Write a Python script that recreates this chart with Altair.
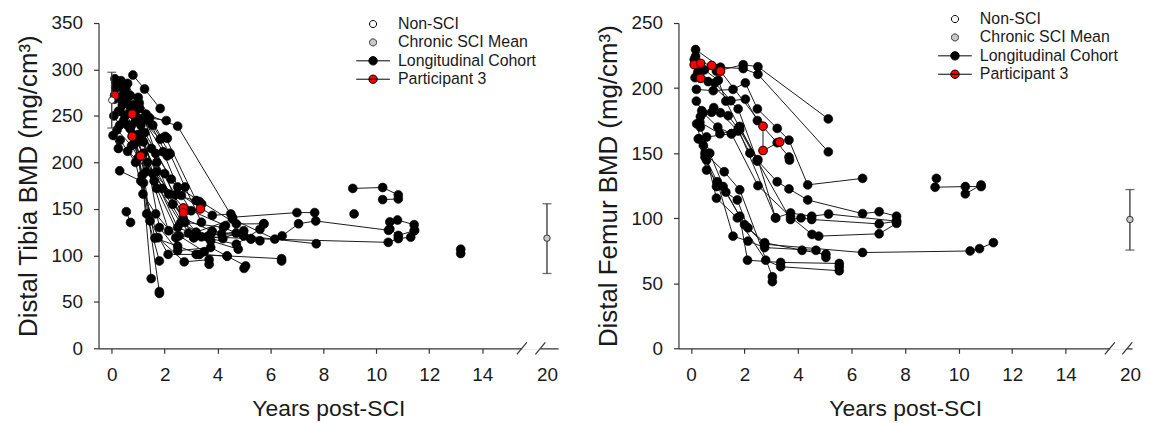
import altair as alt
import pandas as pd

FONT = "Liberation Sans"

# ---------------- data ----------------
LEGEND_LABELS = ["Non-SCI", "Chronic SCI Mean", "Longitudinal Cohort", "Participant 3"]
LEGEND_FILLS = ["#ffffff", "#c8c8c8", "#000000", "#ff0000"]

X_TICKS = [0, 2, 4, 6, 8, 10, 12, 14]
BROKEN_X_VALUE = 20
TIBIA_Y_TICKS = [0, 50, 100, 150, 200, 250, 300, 350]
FEMUR_Y_TICKS = [0, 50, 100, 150, 200, 250]

# Tibia (left panel): years post-SCI, BMD mg/cm3
TIBIA_NON_SCI = {"x": 0, "mean": 267, "lo": 237, "hi": 297}
TIBIA_CHRONIC = {"x": 20, "mean": 118.5, "lo": 80.5, "hi": 155.5}
TIBIA_P3 = [(0.11, 272), (0.77, 252), (0.77, 228), (1.09, 207), (2.71, 151), (2.71, 146), (3.35, 150)]
TIBIA_COHORT = [
    [(0.80, 294), (1.24, 279), (1.83, 258)],
    [(0.35, 288), (1.43, 248), (2.06, 245)],
    [(0.55, 283), (1.3, 252), (2.49, 239), (4.56, 141), (7.0, 146), (7.67, 146)],
    [(0.15, 286), (0.6, 270), (1.1, 247), (1.83, 225), (2.02, 228), (3.19, 159), (3.39, 155.5)],
    [(0.25, 282), (0.85, 262), (1.55, 240), (2.19, 210), (2.77, 173.5), (3.39, 135.6)],
    [(0.45, 275), (1.04, 264), (1.66, 209.6), (2.63, 164.5), (3.8, 143), (4.5, 144.6)],
    [(0.1, 268), (0.7, 255), (1.2, 246), (1.94, 211.5), (2.49, 173.5), (4.71, 133.8), (5.75, 134)],
    [(0.05, 229), (0.25, 215), (0.6, 212), (1.55, 188), (2.15, 166), (3.1, 119), (4.15, 123), (4.99, 126.5)],
    [(0.2, 235), (0.75, 218), (1.3, 190), (2.0, 188), (2.77, 135.6), (4.22, 130), (5.26, 117.5), (5.6, 115.7)],
    [(0.32, 224), (0.9, 200), (1.18, 166), (1.66, 144.6), (2.42, 119), (3.74, 123), (4.99, 121)],
    [(0.15, 280), (0.75, 240), (1.15, 186), (1.49, 75)],
    [(0.2, 270), (0.9, 228), (1.2, 178), (1.8, 61), (1.8, 59)],
    [(0.4, 262), (1.0, 205), (1.32, 144.6), (1.8, 94)],
    [(0.55, 147), (0.71, 135.4)],
    [(0.3, 191), (1.1, 180), (1.75, 119), (2.74, 93), (3.68, 95.4), (3.68, 90.4)],
    [(0.5, 250), (1.05, 223), (1.45, 137), (2.13, 101), (3.19, 101), (4.36, 99.4), (6.42, 96.4), (6.42, 94)],
    [(0.65, 262), (1.1, 240), (1.8, 130), (2.49, 105), (3.74, 108.5), (5.06, 88.6), (5.0, 86)],
    [(0.25, 255), (0.8, 230), (1.63, 118.6), (2.49, 110), (3.32, 101), (4.36, 99)],
    [(0.45, 245), (1.2, 210), (2.15, 126.5), (3.1, 119), (3.74, 115.7), (4.78, 106.6)],
    [(0.6, 240), (1.35, 200), (2.49, 130), (3.39, 120), (4.71, 112), (5.6, 128), (5.75, 134)],
    [(0.9, 245), (1.5, 215), (2.3, 155), (3.19, 125), (4.57, 139), (6.16, 117.5), (6.44, 121),
     (7.06, 134), (7.71, 137), (10.46, 127), (10.51, 136), (10.8, 138), (11.43, 133)],
    [(1.0, 230), (1.7, 190), (2.7, 140), (3.8, 126), (4.99, 121), (7.73, 112.5)],
    [(0.85, 220), (1.6, 180), (2.6, 135), (3.6, 120), (5.26, 118), (10.45, 114), (10.83, 118),
     (11.3, 119.6), (11.43, 126.5)],
    [(9.11, 172), (10.24, 173), (10.83, 165)],
    [(10.24, 160), (10.83, 160.7)],
    [(9.16, 144.6)],
    [(13.19, 106.6), (13.19, 102)],
    [(0.12, 290), (0.5, 278), (1.0, 270), (1.9, 226), (2.1, 226)],
    [(0.6, 285), (1.05, 258), (1.4, 245), (2.1, 207), (2.2, 209)],
    [(0.3, 255), (0.9, 250), (1.7, 200), (2.4, 165), (3.3, 158), (3.39, 155)],
    [(10.51, 128.6), (10.83, 121.4), (11.45, 126.8)],
    [(0.08, 250), (0.3, 240), (0.7, 236), (1.2, 222), (1.9, 172), (2.9, 124), (4.2, 118), (4.7, 124)],
    [(0.38, 268), (0.95, 246), (1.25, 232), (2.25, 182), (3.0, 148), (4.3, 132)],
    [(0.7, 272), (1.15, 232), (1.7, 172), (2.55, 121), (3.5, 104)],
]

# Femur (right panel)
FEMUR_CHRONIC = {"x": 20, "mean": 99, "lo": 75.5, "hi": 122}
FEMUR_P3 = [(0.12, 218), (0.36, 219), (0.36, 207.5), (0.77, 217.4), (1.1, 213), (2.69, 170.7), (2.69, 152), (3.31, 158.5)]
FEMUR_COHORT = [
    [(0.17, 224.5), (0.95, 213), (1.95, 218), (2.5, 216.4), (5.13, 176.3)],
    [(0.17, 229.6), (1.1, 216), (1.95, 215), (2.5, 210.6), (5.13, 151)],
    [(0.2, 199), (0.83, 198), (1.57, 199), (2.03, 204), (2.48, 184), (3.22, 169), (3.66, 160), (4.36, 125.6), (6.41, 130.6)],
    [(0.25, 212), (0.89, 204), (1.49, 190.3), (2.03, 191.5), (2.48, 175), (3.22, 158), (3.66, 147), (3.68, 144.6)],
    [(0.15, 208), (0.64, 205), (1.76, 184), (2.47, 144.6), (3.22, 128), (3.66, 122.5), (4.36, 114), (6.41, 103.5), (7.03, 105), (7.68, 101.5)],
    [(0.4, 182.6), (0.77, 181.4), (1.39, 178.8), (1.76, 168.7), (3.16, 100.2), (3.72, 104), (4.51, 101.5), (5.14, 103.2), (7.68, 97.7)],
    [(0.33, 173.8), (1.08, 164.9), (1.82, 168), (3.72, 99), (4.11, 100.2), (4.51, 99), (7.03, 95.6), (7.68, 97.7)],
    [(0.58, 162.4), (1.51, 164.9), (2.5, 125), (3.72, 101), (4.52, 87.5), (4.77, 86.2), (7.03, 88), (7.68, 96)],
    [(0.3, 161), (0.58, 144.6), (0.95, 124.3), (1.73, 114), (2.13, 92.6), (2.75, 81.2), (4.15, 75.3), (5.04, 72.3)],
    [(0.21, 172.5), (0.52, 147), (0.98, 128), (1.57, 86.2), (2.13, 82.4), (2.75, 77.4), (4.67, 75.3), (5.04, 69.8)],
    [(0.27, 161), (0.58, 137), (1.2, 124.3), (1.82, 101.5), (2.11, 67.7), (3.35, 66), (5.54, 65.2), (5.54, 62.7)],
    [(0.46, 156), (0.95, 115.4), (1.73, 100.2), (2.79, 67.7), (3.35, 62.7), (5.54, 59.6)],
    [(0.52, 150), (1.24, 135.7), (1.82, 121.8), (3.04, 55), (3.04, 51.2)],
    [(0.35, 170), (0.7, 150), (1.3, 120), (2.0, 95), (2.75, 80), (6.41, 73.6), (10.43, 74.8), (10.78, 76.6), (11.3, 81.2)],
    [(9.17, 130.6)],
    [(9.12, 123.8), (10.25, 124.3), (10.84, 124.3)],
    [(10.25, 118.7), (10.84, 125.5)],
    [(0.12, 222), (0.5, 214), (1.02, 206), (1.3, 190), (1.8, 170), (2.5, 145), (3.16, 100.2)],
    [(0.2, 190), (0.45, 181), (1.0, 170), (1.51, 164.9), (1.82, 170.5), (2.48, 143.8)],
    [(0.35, 178), (0.85, 185), (1.1, 181), (1.76, 167), (2.2, 150)],
]

# ---------------- helpers ----------------
CIRCLE_PATH = "M-0.55,0A0.55,0.55,0,1,0,0.55,0A0.55,0.55,0,1,0,-0.55,0Z"
LINE_CIRCLE_PATH = "M-2.6,0H2.6M-0.65,0A0.65,0.65,0,1,0,0.65,0A0.65,0.65,0,1,0,-0.65,0Z"
LEGEND_SHAPES = [CIRCLE_PATH, CIRCLE_PATH, LINE_CIRCLE_PATH, LINE_CIRCLE_PATH]
LEGEND_STROKES = ["#000000", "#333333", "#000000", "#000000"]
AXIS_COLOR = "#333333"
TEXT_COLOR = "#1a1a1a"


def axis_pos(x, brk):
    return brk if x >= BROKEN_X_VALUE else x


def traj_frame(trajs, prefix):
    rows = []
    for k, t in enumerate(trajs):
        for i, (x, y) in enumerate(t):
            rows.append({"subject": f"{prefix}{k}", "idx": i, "x": x, "y": y})
    return pd.DataFrame(rows)


def panel(cohort, p3, chronic, non_sci, ytitle, yticks, height, width, xdom, brk,
          slashes, legend_xy):
    ymax = yticks[-1]
    xaxis = alt.Axis(
        values=X_TICKS + [brk],
        labelExpr="datum.value > 15 ? '20' : datum.label",
        tickOpacity={"condition": {"test": "datum.value > 15", "value": 0}, "value": 1},
        title="Years post-SCI", labelFlush=False, grid=False,
    )
    yaxis = alt.Axis(values=yticks, title=ytitle, grid=False, labelFlush=False)
    xs = alt.Scale(domain=xdom, nice=False, zero=False)
    ys = alt.Scale(domain=[0, ymax], nice=False, zero=False)

    def X(f):
        return alt.X(f, type="quantitative", scale=xs, axis=xaxis)

    def Y(f):
        return alt.Y(f, type="quantitative", scale=ys, axis=yaxis)

    coh = traj_frame(cohort + [p3], "s")
    p3df = traj_frame([p3], "p")

    lines = alt.Chart(coh).mark_line(color="#1a1a1a", strokeWidth=1).encode(
        x=X("x"), y=Y("y"), detail="subject:N", order="idx:Q")
    pts = alt.Chart(coh).mark_point(filled=True, shape="circle", size=80, fill="#000000",
                                    stroke="#000000", strokeWidth=0.6, opacity=1).encode(
        x=X("x"), y=Y("y"))
    red = alt.Chart(p3df).mark_point(filled=True, shape="circle", size=66, fill="#ff0000",
                                     stroke="#3a0000", strokeWidth=0.8, opacity=1).encode(
        x=X("x"), y=Y("y"))

    layers = [lines, pts, red]
    for d, fill in ((non_sci, LEGEND_FILLS[0]), (chronic, LEGEND_FILLS[1])):
        if d is None:
            continue
        summ = pd.DataFrame([{"x": axis_pos(d["x"], brk), "mean": d["mean"],
                              "lo": d["lo"], "hi": d["hi"]}])
        layers.append(alt.Chart(summ).mark_rule(color=AXIS_COLOR, strokeWidth=1.3).encode(
            x=X("x"), y=Y("lo"), y2="hi"))
        for f in ("lo", "hi"):
            layers.append(alt.Chart(summ).mark_tick(orient="horizontal", size=9, thickness=1.3,
                                                    color=AXIS_COLOR).encode(x=X("x"), y=Y(f)))
        layers.append(alt.Chart(summ).mark_point(filled=True, shape="circle", size=42,
                                                 fill=fill, stroke="#333333", strokeWidth=1,
                                                 opacity=1).encode(x=X("x"), y=Y("mean")))

    # axis break marks
    px_per_x = width / (xdom[1] - xdom[0])
    px_per_y = height / ymax
    dx = 5 / px_per_x
    dy = 6 / px_per_y
    gap = pd.DataFrame({"x": [slashes[0]], "x2": [slashes[1]], "y": [0]})
    layers.append(alt.Chart(gap).mark_rule(color="white", strokeWidth=3).encode(
        x=X("x"), x2="x2", y=Y("y")))
    sl = pd.DataFrame({"x": [s - dx for s in slashes], "x2": [s + dx for s in slashes],
                       "y": [-dy] * 2, "y2": [dy] * 2})
    layers.append(alt.Chart(sl).mark_rule(color=AXIS_COLOR, strokeWidth=1.2).encode(
        x=X("x"), x2="x2", y=Y("y"), y2="y2"))

    # legend owner layer (its own marks are clipped off the plot)
    leg_df = pd.DataFrame({"label": LEGEND_LABELS, "x": [xdom[0] - 5] * 4, "y": [ymax / 2] * 4})
    leg = alt.Legend(title=None, orient="none", legendX=legend_xy[0], legendY=legend_xy[1],
                     symbolSize=169, labelFont=FONT, labelFontSize=16, labelColor=TEXT_COLOR,
                     labelOffset=17, rowPadding=2.5, padding=0, symbolStrokeColor="#000000",
                     symbolStrokeWidth=1, symbolOpacity=1)
    layers.append(alt.Chart(leg_df).mark_point(filled=True, clip=True, size=10,
                                               strokeWidth=1).encode(
        x=X("x"), y=Y("y"),
        fill=alt.Fill("label:N", scale=alt.Scale(domain=LEGEND_LABELS, range=LEGEND_FILLS),
                      legend=leg),
        stroke=alt.Stroke("label:N", scale=alt.Scale(domain=LEGEND_LABELS, range=LEGEND_STROKES),
                          legend=leg),
        shape=alt.Shape("label:N", scale=alt.Scale(domain=LEGEND_LABELS, range=LEGEND_SHAPES),
                        legend=leg),
    ))

    return alt.layer(*layers).properties(width=width, height=height)


left = panel(TIBIA_COHORT, TIBIA_P3, TIBIA_CHRONIC, TIBIA_NON_SCI,
             "Distal Tibia BMD (mg/cm³)", TIBIA_Y_TICKS, 327, 462, [-0.5, 16.87], 16.45,
             [15.5, 16.2], (268, -7))
right = panel(FEMUR_COHORT, FEMUR_P3, FEMUR_CHRONIC, None,
              "Distal Femur BMD (mg/cm³)", FEMUR_Y_TICKS, 327, 456, [-0.47, 16.48], 16.4,
              [15.65, 16.3], (270, -12))

chart = alt.hconcat(left, right, spacing=37).resolve_scale(
    fill="independent", shape="independent", stroke="independent"
).resolve_legend(fill="independent", shape="independent", stroke="independent").properties(
    padding={"left": 7, "top": 2, "right": 0, "bottom": 0}, background="white"
).configure_axis(
    domainColor=AXIS_COLOR, domainWidth=1.2, tickColor=AXIS_COLOR, tickWidth=1.2, tickSize=5,
    labelFont=FONT, labelFontSize=19, labelColor=TEXT_COLOR, titleFont=FONT,
    titleFontWeight="normal", titleColor=TEXT_COLOR, grid=False,
).configure_axisX(labelPadding=12, titlePadding=14, titleFontSize=23).configure_axisY(
    labelPadding=11, titlePadding=10, titleFontSize=26
).configure_view(stroke=None)

chart.save("out.html", embed_options={"renderer": "svg", "actions": False})
